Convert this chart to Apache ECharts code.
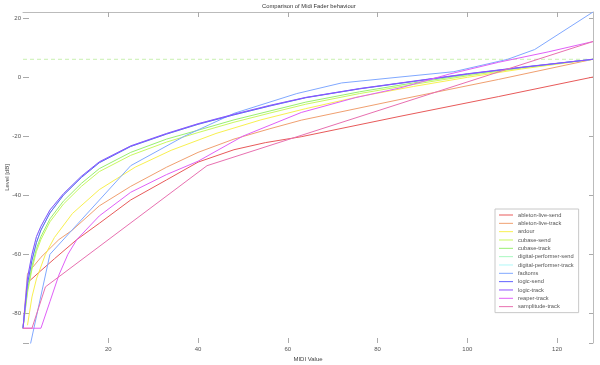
<!DOCTYPE html>
<html><head><meta charset="utf-8">
<script src="https://cdn.jsdelivr.net/npm/echarts@6/dist/echarts.min.js"></script>
<style>html,body{margin:0;padding:0;background:#fff}#c{width:600px;height:365px}</style>
</head><body><div id="c"></div>
<script>
const seriesNames = ['ableton-live-send','ableton-live-track','ardour','cubase-send','cubase-track','digital-performer-send','digital-performer-track','fadtoms','logic-send','logic-track','reaper-track','samplitude-track'];
const xTicks = [20,40,60,80,100,120];
const yTicks = [-80,-60,-40,-20,0,20];
const yTickMarks = [-90,-80,-60,-40,-20,0,20];

const ablSendX = [1,2,5,8,13,18,25,33,40,48,55,63,85,107,128];
const ablSendY = [-85,-69.6,-65.5,-61.5,-55,-49.5,-41.6,-34.8,-28.8,-24.6,-22.2,-20.2,-13.3,-6.6,0];
const ablTrackX = [1,2,5,9,12,18,25,33,40,48,56,63,85,107,128];
const ablTrackY = [-85,-66.5,-61,-55,-51.8,-43.6,-37,-30.5,-25.5,-21,-17.5,-14.6,-7.6,-0.8,6];
const ardourX = [2,3,4,6,8,12,18,26,34,44,54,64,76,88,100,112,128];
const ardourY = [-84,-74.4,-68.3,-60,-54.3,-46.2,-38.1,-30.5,-24.8,-19.1,-14.5,-10.7,-6.6,-3.2,-0.1,2.7,6];
const cubaseSendX = [1,2,3,4,5,7,10,14,18,25,33,40,48,56,64,76,88,100,112,128];
const cubaseSendY = [-85,-73,-65,-59,-55,-49,-43,-37,-32,-26.5,-22,-18.8,-15.3,-12.2,-9.2,-5.6,-2.5,0.4,3,6];
const cubaseTrackX = [1,2,3,4,5,7,10,14,18,25,33,40,48,56,64,76,88,100,112,128];
const cubaseTrackY = [-85,-72,-64,-58,-54,-48,-42,-36,-31,-25.5,-21,-18,-14.5,-11.5,-8.5,-5,-2,0.8,3.2,6];
const dpSendX = [1,2,3,4,5,7,10,14,18,25,33,40,48,56,64,76,88,100,112,128];
const dpSendY = [-85,-70,-62,-56,-51.8,-46,-40,-34,-29,-23.5,-19.3,-16,-12.8,-9.8,-7,-4,-1.5,1,3.2,6];
const dpTrackX = [1,2,3,4,5,7,10,14,18,25,33,40,48,56,64,76,88,100,112,128];
const dpTrackY = [-85,-68,-60,-54,-50.5,-45,-39.5,-33.6,-28.7,-23.3,-19.1,-15.8,-12.6,-9.6,-6.9,-3.9,-1.4,1.1,3.3,6];
const fadX = [2,7,25,37,48,62,72,85,97,109,115,128];
const fadY = [-95,-60,-30,-20,-12.3,-5.6,-2,0,1.8,6,9.3,22];
const logicSendX = [1,2,3,4,5,7,10,14,18,25,33,40,48,56,64,76,88,100,112,128];
const logicSendY = [-85,-70,-62,-56,-51.8,-46,-40,-34,-29,-23.5,-19.3,-16,-12.8,-9.8,-7,-4,-1.5,1,3.2,6];
const logicTrackX = [1,2,3,4,5,7,10,14,18,25,33,40,48,56,64,76,88,100,112,128];
const logicTrackY = [-85,-68,-60,-54,-50.5,-45,-39.5,-33.6,-28.7,-23.3,-19.1,-15.8,-12.6,-9.6,-6.9,-3.9,-1.4,1.1,3.3,6];
const reaperX = [1,5,7,9,11,13,18,25,33,40,50,63,75,85,96,107,118,128];
const reaperY = [-85,-85,-76,-67,-60,-55,-47,-39,-33,-28.5,-20,-12,-7,-3.7,1,5,8.5,12];
const sampX = [1,3,6,42,128];
const sampY = [-85,-85,-71,-30,12];
const refX = [1,128];
const refY = [6,6];

const seriesX = [ablSendX,ablTrackX,ardourX,cubaseSendX,cubaseTrackX,dpSendX,dpTrackX,fadX,logicSendX,logicTrackX,reaperX,sampX];
const seriesY = [ablSendY,ablTrackY,ardourY,cubaseSendY,cubaseTrackY,dpSendY,dpTrackY,fadY,logicSendY,logicTrackY,reaperY,sampY];
const colors = ['#e85a5a','#f0a070','#f8f050','#c8f860','#98f070','#a8f8c0','#b0f8f8','#80a8ff','#6060ff','#9050ff','#e060f8','#e870b0'];

const FONT = 'Liberation Sans';
const chart = echarts.init(document.getElementById('c'), null, {renderer:'canvas'});
const pair = (xs, ys) => xs.map((x,i)=>[x, ys[i]]);
const series = seriesNames.map((n,i)=>({
  name:n, type:'line', data:pair(seriesX[i], seriesY[i]), symbol:'none', showSymbol:false,
  smooth:false, xAxisIndex:0, yAxisIndex:0,
  lineStyle:{color:colors[i], width:1}, itemStyle:{color:colors[i]}, z:3+i, animation:false
}));
series.unshift({name:'ref', type:'line', data:pair(refX, refY), symbol:'none', xAxisIndex:0, yAxisIndex:0,
  lineStyle:{color:'#c8f0b0', width:1, type:[4,3]}, z:2, animation:false, silent:true});

chart.setOption({
  animation:false,
  backgroundColor:'#fff',
  textStyle:{fontFamily:FONT},
  title:{text:'Comparison of Midi Fader behaviour', left:262, top:3, padding:0,
    textStyle:{fontSize:5.8, fontWeight:'normal', color:'#333', fontFamily:FONT}},
  grid:{left:23, right:7, top:12, bottom:22, containLabel:false, outerBoundsMode:'none'},
  legend:{orient:'vertical', left:495, top:209,
    data:seriesNames.map(n=>({name:n, icon:'rect'})),
    padding:[2,5,2,4], itemWidth:14, itemHeight:1, itemGap:0.33,
    backgroundColor:'#fff', borderColor:'#c8c8c8', borderWidth:1,
    textStyle:{fontSize:5.7, lineHeight:8, color:'#555', fontFamily:FONT}},
  xAxis:[
    {type:'value', min:1, max:128, position:'bottom',
     axisLine:{show:false, onZero:false},
     axisTick:{show:true, inside:true, length:5, customValues:xTicks, lineStyle:{color:'#aaa'}},
     axisLabel:{customValues:xTicks, fontSize:6, color:'#555', margin:3, fontFamily:FONT},
     splitLine:{show:false},
     name:'MIDI Value', nameLocation:'middle', nameGap:13, nameMoveOverlap:false,
     nameTextStyle:{fontSize:6, color:'#444', fontFamily:FONT}},
    {type:'value', min:1, max:128, position:'top',
     axisLine:{show:true, onZero:false, lineStyle:{color:'#bbb'}},
     axisTick:{show:true, inside:true, length:5, customValues:xTicks, lineStyle:{color:'#aaa'}},
     axisLabel:{show:false}, splitLine:{show:false}}
  ],
  yAxis:[
    {type:'value', min:-90, max:22, position:'left',
     axisLine:{show:false, onZero:false},
     axisTick:{show:true, inside:true, length:6, customValues:yTickMarks, lineStyle:{color:'#aaa'}},
     axisLabel:{customValues:yTicks, fontSize:6, color:'#555', margin:2, fontFamily:FONT},
     splitLine:{show:false},
     name:'Level [dB]', nameLocation:'middle', nameRotate:90, nameGap:13, nameMoveOverlap:false,
     nameTextStyle:{fontSize:6, color:'#444', fontFamily:FONT}},
    {type:'value', min:-90, max:22, position:'right',
     axisLine:{show:true, onZero:false, lineStyle:{color:'#bbb'}},
     axisTick:{show:true, inside:true, length:4, customValues:yTickMarks, lineStyle:{color:'#aaa'}},
     axisLabel:{show:false}, splitLine:{show:false}}
  ],
  series:series
});
</script></body></html>
